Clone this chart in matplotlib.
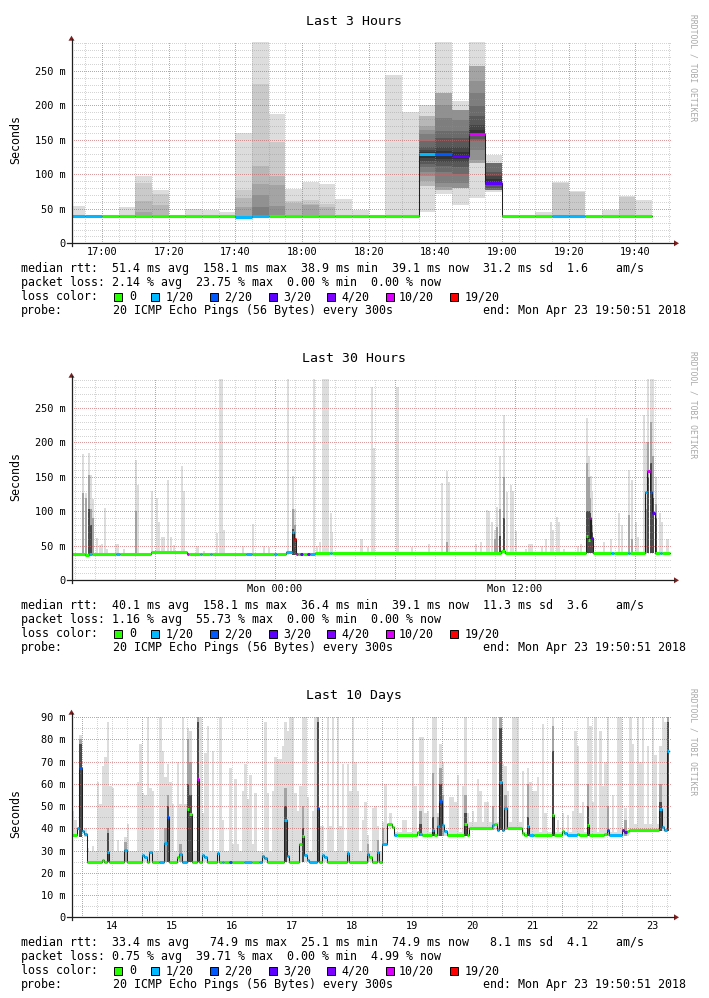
import matplotlib
matplotlib.use('Agg')
import matplotlib.pyplot as plt
from matplotlib.patches import Rectangle, Polygon
from matplotlib.lines import Line2D

plt.rcParams['font.family'] = ['DejaVu Sans Mono']

W, H = 709, 998

LOSS_COLORS = ['#26ff00', '#00b8ff', '#0059ff', '#5e00ff', '#7e00ff', '#dd00ff', '#ff0000']
LOSS_LABELS = ['0', '1/20', '2/20', '3/20', '4/20', '10/20', '19/20']
SMOKE = ['#dddddd', '#cacaca', '#b7b7b7', '#a4a4a4', '#919191',
         '#7e7e7e', '#6b6b6b', '#585858', '#454545', '#323232']
GRID_MINOR = (0.56, 0.56, 0.56, 0.38)
GRID_MAJOR = (0.87, 0.31, 0.31, 0.42)

titles = ['Last 3 Hours', 'Last 30 Hours', 'Last 10 Days']
rtt_stats = [(51.4, 158.1, 38.9, 39.1, 31.2, 1.6),
             (40.1, 158.1, 36.4, 39.1, 11.3, 3.6),
             (33.4, 74.9, 25.1, 74.9, 8.1, 4.1)]
loss_stats = [(2.14, 23.75, 0.00, 0.00),
              (1.16, 55.73, 0.00, 0.00),
              (0.75, 39.71, 0.00, 4.99)]
probe_text = '20 ICMP Echo Pings (56 Bytes) every 300s'
end_text = 'end: Mon Apr 23 19:50:51 2018'

# ---- panel 1: last 3 hours, minutes after 16:00, 5 minute steps ----
p1_start = [50, 55, 60, 65, 70, 75, 80, 85, 90, 95, 100, 105, 110, 115, 120, 125, 130, 135,
            140, 145, 150, 155, 160, 165, 170, 175, 180, 185, 190, 195, 200, 205, 210, 215, 220]
p1_median = [39.5, 39.5, 39.5, 39.5, 39.5, 39.5, 39.5, 38.9, 39.5, 39.5, 38.5, 40.0, 40.0, 39.5,
             39.5, 39.5, 39.5, 39.5, 39.5, 39.5, 39.5, 129, 129, 127, 158.1, 88, 39.5, 39.5,
             39.5, 39.5, 39.5, 39.5, 39.5, 39.5, 39.1]
p1_loss = [1, 1, 0, 0, 0, 0, 0, 0, 0, 0, 1, 1, 0, 0, 0, 0, 0, 0, 0, 0, 0, 1, 2, 3, 5, 3,
           0, 0, 0, 1, 1, 0, 0, 0, 0]
p1_tops = [[54], [], [], [53], [97, 88, 62, 45], [78, 72, 56], [], [50], [48], [46],
           [160, 77, 66, 53], [292, 231, 112, 86, 70, 53], [187, 147, 98, 84, 54],
           [79, 61.5, 59], [89, 63, 57, 55], [86, 57, 52], [64], [49], [], [244], [190],
           [201, 184, 170, 165, 158, 148, 140, 135, 132],
           [293, 218, 201, 182, 163, 153, 140, 134],
           [207, 194, 179, 163, 153, 140, 133],
           [293, 257, 235, 218, 199, 184, 172, 165],
           [128, 116, 104, 97, 93],
           [], [], [45], [89, 87], [76, 74], [], [49], [69, 67], [63]]
p1_bots = {21: [46, 83, 90, 97, 104, 110, 115, 120, 124],
           22: [71, 78, 81, 88, 104, 112, 118, 123],
           23: [56, 80, 88, 100, 110, 118, 123],
           24: [66, 116, 121, 136, 148, 152, 155, 157],
           25: [75, 78, 80, 84, 87]}

# ---- panel 2: last 30 hours, hours relative to Mon 00:00 ----
p2_med = [(-10.15, 37.8, 0), (-9.5, 36.5, 0), (-9.28, 37.8, 1), (-9.12, 37.8, 0),
          (-7.92, 37.8, 1), (-7.75, 37.8, 0), (-6.2, 41, 0), (-4.38, 38.5, 5),
          (-4.28, 37.5, 0), (-3.75, 37.5, 1), (-3.62, 37.5, 0), (-3.25, 37.5, 1),
          (-3.12, 37.5, 0), (-1.45, 37.5, 1), (-1.12, 37.5, 0), (-0.05, 37.5, 1),
          (0.12, 37.5, 0), (0.58, 41, 1), (0.88, 70, 1), (0.97, 60, 6), (1.05, 37.5, 5),
          (1.17, 37.5, 0), (1.25, 37.5, 3), (1.42, 37.5, 0), (1.62, 37.5, 4),
          (1.75, 37.5, 1), (2.0, 40, 0), (2.75, 40, 1), (2.88, 40, 0), (11.33, 42, 0),
          (11.5, 40, 0), (15.58, 65, 0), (15.67, 58, 0), (15.75, 90, 5), (15.83, 61, 3),
          (15.92, 40, 0), (16.83, 40, 1), (16.97, 40, 0), (17.67, 40, 1), (17.78, 40, 0),
          (18.5, 128, 1), (18.62, 158, 5), (18.75, 128, 2), (18.88, 97, 3), (19.0, 40, 0),
          (19.25, 40, 1), (19.38, 40, 0)]
p2_end = 19.75
p2_floor = [(-10.15, 36.5), (-6.2, 39.5), (-4.38, 36.5), (2.0, 39)]
# (hour, light top, mid top, dark top)
p2_smoke = [(-9.62, 183, 127, 0), (-9.5, 127, 120, 0), (-9.33, 185, 153, 104),
            (-9.25, 153, 104, 80), (-9.12, 118, 90, 0), (-8.95, 62, 0, 0), (-8.78, 51, 0, 0),
            (-8.67, 53, 0, 0), (-8.52, 105, 0, 0), (-8.42, 46, 0, 0), (-8.0, 53, 0, 0),
            (-7.88, 53, 0, 0), (-7.58, 45, 0, 0), (-6.98, 174, 100, 0), (-6.87, 138, 0, 0),
            (-6.2, 130, 0, 0), (-5.95, 120, 0, 0), (-5.83, 84, 0, 0), (-5.67, 63, 0, 0),
            (-5.58, 63, 0, 0), (-5.37, 146, 0, 0), (-5.25, 63, 0, 0), (-5.08, 51, 0, 0),
            (-4.7, 166, 0, 0), (-4.58, 130, 0, 0), (-3.95, 50, 0, 0), (-3.87, 50, 0, 0),
            (-3.58, 42, 0, 0), (-2.95, 69, 0, 0), (-2.78, 293, 0, 0), (-2.67, 293, 0, 0),
            (-2.58, 73, 0, 0), (-1.62, 50, 0, 0), (-1.12, 82, 0, 0), (-0.58, 50, 0, 0),
            (-0.33, 48, 0, 0), (0.62, 293, 0, 0), (0.88, 152, 104, 75), (0.97, 104, 80, 62),
            (1.92, 293, 0, 0), (2.05, 50, 0, 0), (2.22, 55, 0, 0), (2.38, 293, 0, 0),
            (2.47, 293, 0, 0), (2.55, 293, 0, 0), (2.63, 293, 0, 0), (2.75, 98, 0, 0),
            (2.83, 70, 0, 0), (4.25, 60, 0, 0), (4.33, 60, 0, 0), (4.63, 48, 0, 0),
            (4.8, 280, 0, 0), (4.92, 192, 0, 0), (6.05, 280, 0, 0), (6.13, 280, 0, 0),
            (6.83, 48, 0, 0), (7.67, 53, 0, 0), (8.3, 141, 0, 0), (8.55, 158, 56, 0),
            (8.67, 143, 0, 0), (10.0, 52, 0, 0), (10.25, 55, 0, 0), (10.55, 102, 0, 0),
            (10.68, 100, 0, 0), (10.83, 84, 0, 0), (10.95, 73, 60, 0), (11.08, 106, 77, 0),
            (11.2, 181, 104, 65), (11.42, 240, 150, 90), (11.55, 128, 0, 0),
            (11.75, 138, 0, 0), (11.88, 130, 0, 0), (12.0, 71, 0, 0), (12.5, 45, 0, 0),
            (12.67, 53, 0, 0), (12.75, 53, 0, 0), (12.83, 53, 0, 0), (13.3, 50, 0, 0),
            (13.5, 60, 0, 0), (13.75, 84, 0, 0), (13.87, 73, 0, 0), (14.08, 92, 0, 0),
            (14.17, 84, 0, 0), (14.42, 45, 0, 0), (15.13, 50, 0, 0), (15.25, 52, 0, 0),
            (15.58, 235, 170, 100), (15.67, 181, 150, 100), (15.75, 152, 120, 97),
            (15.83, 130, 80, 70), (16.42, 55, 0, 0), (16.75, 60, 0, 0), (17.17, 97, 0, 0),
            (17.33, 80, 0, 0), (17.67, 160, 95, 0), (17.8, 146, 60, 0), (18.0, 84, 0, 0),
            (18.13, 63, 0, 0), (18.42, 240, 0, 0), (18.5, 200, 104, 0),
            (18.62, 293, 200, 150), (18.75, 293, 230, 170), (18.88, 293, 180, 120),
            (19.0, 150, 110, 90), (19.22, 97, 0, 0), (19.33, 84, 0, 0), (19.55, 60, 0, 0),
            (19.63, 60, 0, 0)]

# ---- panel 3: last 10 days, hours after Apr 13 00:00, 1 hour steps ----
p3_med = [(20, 37, 0), (22, 40, 1), (23, 67, 2), (24, 39, 1), (25, 37.5, 1), (26, 25, 0),
          (32, 26, 0), (33, 25, 0), (34, 29.5, 1), (35, 25, 0), (41, 30.5, 1), (42, 25, 0),
          (48, 28, 1), (49, 27, 1), (50, 25, 0), (51, 29.5, 1), (52, 25, 0), (55, 25, 1),
          (57, 33.5, 1), (58, 45, 2), (59, 25, 0), (62, 27, 0), (63, 28.5, 1), (64, 25, 1),
          (66, 48.5, 0), (67, 46.5, 0), (68, 25, 0), (70, 62, 5), (71, 25, 0), (72, 28, 1),
          (73, 27, 1), (74, 25, 0), (78, 29, 1), (79, 25, 0), (80, 25, 1), (81, 25, 0),
          (83, 25, 2), (84, 25, 0), (89, 25, 1), (92, 25, 0), (95, 25, 1), (96, 27.5, 1),
          (97, 26.5, 1), (98, 25, 0), (105, 44, 1), (106, 27.5, 1), (107, 25, 0),
          (111, 33, 0), (112, 36.5, 0), (113, 28, 1), (114, 26, 1), (115, 25, 1),
          (118, 49, 2), (119, 25, 0), (120, 28, 1), (121, 27, 1), (122, 25, 0),
          (130, 29, 1), (131, 25, 0), (138, 28.5, 1), (139, 27, 0), (140, 25, 0),
          (142, 29.5, 1), (143, 25, 0), (144, 33, 1), (146, 42, 0), (148, 40.5, 0),
          (149, 37, 1), (150, 37, 0), (158, 38.5, 0), (159, 37.5, 1), (160, 37, 0),
          (164, 39.5, 1), (165, 37, 0), (166, 41, 1), (167, 52.5, 2), (168, 41.5, 1),
          (169, 39, 1), (170, 37, 0), (177, 42, 0), (178, 37, 0), (179, 40, 0),
          (188, 41.5, 1), (189, 42, 0), (190, 39.5, 1), (191, 60.8, 1), (192, 39.5, 1),
          (193, 49, 1), (194, 40, 0), (200, 38, 0), (201, 37, 0), (202, 41, 1),
          (203, 37, 1), (205, 37, 0), (212, 46, 0), (213, 37, 0), (216, 39, 0),
          (217, 38, 1), (218, 37, 1), (222, 37.5, 0), (223, 37, 0), (226, 41.5, 0),
          (227, 37, 0), (233, 37.5, 0), (234, 39.5, 2), (235, 37, 1), (240, 39.5, 4),
          (241, 38.5, 3), (242, 39, 0), (243, 39.5, 0), (255, 48.8, 1), (256, 40.5, 1),
          (257, 39.5, 1), (258, 74.9, 1)]
p3_end = 259
p3_floor = [(20, 36), (26, 25), (144, 33), (146, 40), (149, 36.5), (179, 39.5),
            (200, 36.5), (243, 39)]
p3_haze = [(26, 144, 25, 30), (149, 179, 36.5, 38.5), (179, 200, 39.5, 43),
           (200, 243, 36.5, 38.5), (243, 259, 39, 42)]
p3_smoke = [(20, 48, 0, 0), (21, 44, 0, 0), (23, 82, 80, 78), (25, 40, 0, 0), (26, 31, 0, 0),
            (28, 32, 0, 0), (30, 61, 0, 0), (31, 51, 0, 0), (32, 68, 0, 0), (33, 72, 0, 0),
            (34, 88, 40, 38), (35, 59, 0, 0), (36, 58, 0, 0), (38, 35, 0, 0), (41, 36, 34, 0),
            (42, 42, 0, 0), (43, 30, 0, 0), (46, 61, 0, 0), (47, 78, 0, 0), (48, 56, 0, 0),
            (49, 55, 0, 0), (50, 90, 0, 0), (51, 58, 0, 0), (52, 57, 0, 0), (55, 90, 0, 0),
            (56, 75, 0, 0), (57, 63, 40, 0), (58, 69, 55, 50), (59, 61, 0, 0), (60, 51, 0, 0),
            (62, 70, 0, 0), (63, 51, 33, 0), (64, 90, 0, 0), (65, 51, 0, 0), (66, 85, 80, 60),
            (67, 84, 70, 55), (70, 90, 90, 88), (71, 90, 0, 0), (72, 47, 0, 0), (73, 74, 0, 0),
            (74, 86, 0, 0), (76, 75, 0, 0), (79, 90, 0, 0), (80, 44, 0, 0), (83, 67, 0, 0),
            (84, 33, 0, 0), (85, 62, 0, 0), (86, 33, 0, 0), (88, 57, 0, 0), (89, 69, 0, 0),
            (90, 53, 0, 0), (91, 64, 0, 0), (92, 33, 0, 0), (93, 56, 0, 0), (95, 30, 0, 0),
            (97, 88, 0, 0), (98, 56, 0, 0), (100, 57, 0, 0), (101, 72, 0, 0), (102, 71, 0, 0),
            (103, 71, 0, 0), (104, 77, 0, 0), (105, 88, 58, 50), (106, 84, 0, 0),
            (107, 90, 0, 0), (108, 90, 0, 0), (109, 56, 0, 0), (110, 48, 0, 0), (111, 59, 0, 0),
            (112, 90, 50, 40), (113, 90, 0, 0), (114, 54, 0, 0), (116, 48, 0, 0),
            (117, 90, 0, 0), (118, 90, 90, 88), (119, 41, 0, 0), (120, 41, 0, 0),
            (122, 90, 0, 0), (123, 41, 0, 0), (124, 90, 0, 0), (126, 90, 0, 0), (127, 41, 0, 0),
            (128, 69, 0, 0), (130, 69, 30, 0), (131, 57, 0, 0), (132, 90, 0, 0), (133, 70, 0, 0),
            (134, 57, 0, 0), (136, 44, 0, 0), (137, 52, 0, 0), (138, 37, 33, 0), (140, 49, 0, 0),
            (141, 50, 0, 0), (142, 41, 35, 0), (144, 43, 40, 0), (145, 60, 0, 0), (147, 47, 0, 0),
            (148, 41, 0, 0), (152, 44, 0, 0), (153, 44, 0, 0), (156, 90, 0, 0), (157, 59, 0, 0),
            (159, 81, 48, 42), (160, 81, 0, 0), (161, 47, 0, 0), (162, 48, 0, 0),
            (164, 90, 65, 45), (165, 90, 0, 0), (166, 47, 45, 0), (167, 78, 67, 60),
            (168, 70, 55, 0), (171, 54, 0, 0), (172, 54, 0, 0), (173, 52, 0, 0), (174, 64, 0, 0),
            (176, 59, 0, 0), (177, 90, 55, 47), (178, 47, 0, 0), (180, 48, 0, 0), (182, 62, 0, 0),
            (183, 57, 0, 0), (185, 52, 0, 0), (186, 52, 0, 0), (188, 90, 50, 0), (189, 90, 0, 0),
            (191, 90, 90, 85), (192, 69, 0, 0), (193, 68, 55, 0), (194, 57, 0, 0), (196, 90, 0, 0),
            (197, 90, 0, 0), (198, 90, 0, 0), (200, 66, 0, 0), (202, 67, 60, 45), (203, 61, 0, 0),
            (204, 57, 0, 0), (205, 57, 0, 0), (206, 63, 0, 0), (208, 87, 0, 0), (209, 47, 0, 0),
            (212, 90, 86, 75), (214, 44, 0, 0), (216, 47, 0, 0), (218, 46, 0, 0), (220, 48, 0, 0),
            (221, 84, 0, 0), (222, 77, 0, 0), (223, 47, 0, 0), (224, 52, 0, 0), (226, 90, 60, 50),
            (227, 86, 0, 0), (228, 52, 0, 0), (229, 90, 0, 0), (231, 84, 0, 0), (232, 59, 0, 0),
            (233, 70, 0, 0), (234, 90, 50, 0), (236, 55, 0, 0), (238, 90, 0, 0), (239, 90, 0, 0),
            (241, 49, 44, 0), (243, 90, 0, 0), (244, 78, 0, 0), (246, 90, 0, 0), (247, 70, 0, 0),
            (248, 90, 0, 0), (250, 77, 0, 0), (252, 90, 0, 0), (253, 73, 0, 0), (255, 77, 60, 52),
            (256, 90, 0, 0), (257, 88, 0, 0), (258, 90, 90, 88)]


def fx(x):
    return x / W


def fy(y):
    return 1 - y / H


fig = plt.figure(figsize=(W / 100, H / 100), dpi=100)
fig.patch.set_facecolor('white')

PLOT_LEFT, PLOT_RIGHT = 71.5, 671.5
panel_top = [41.7, 378.7, 715.7]
panel_bot = [243.3, 580.3, 917.3]


def floor_at(steps, t):
    val = steps[0][1]
    for s, v in steps:
        if t >= s - 1e-9:
            val = v
    return val


def draw_median(ax, steps, end):
    starts = [s[0] for s in steps]
    vals = [s[1] for s in steps]
    cols = [LOSS_COLORS[s[2]] for s in steps]
    edges = starts + [end]
    xs, ys = [], []
    for i, v in enumerate(vals):
        xs += [edges[i], edges[i + 1]]
        ys += [v, v]
    ax.plot(xs, ys, color='#202020', lw=0.75, zorder=3, solid_joinstyle='miter')
    ax.hlines(vals, edges[:-1], edges[1:], colors=cols, lw=2.2, zorder=4)


def draw_grid(ax, xminor, xmajor, yminor, ymajor):
    kw = dict(lw=0.72, ls=(0, (1, 1.6)), antialiased=False)
    for x in xminor:
        ax.axvline(x, color=GRID_MINOR, zorder=2.5, **kw)
    for y in yminor:
        ax.axhline(y, color=GRID_MINOR, zorder=2.5, **kw)
    for x in xmajor:
        ax.axvline(x, color=GRID_MAJOR, zorder=2.6, **kw)
    for y in ymajor:
        ax.axhline(y, color=GRID_MAJOR, zorder=2.6, **kw)


def frame(ax, k):
    top, bot = panel_top[k], panel_bot[k]
    for s in ax.spines.values():
        s.set_visible(False)
    ax.tick_params(length=0, labelsize=7.4, colors='black')
    ax.tick_params(axis='x', pad=2.5)
    ax.tick_params(axis='y', pad=4.5)
    axis_c = '#1f1f1f'
    arrow_c = '#7f1f1f'
    fig.add_artist(Line2D([fx(67), fx(674)], [fy(bot), fy(bot)], color=axis_c, lw=0.9))
    fig.add_artist(Line2D([fx(PLOT_LEFT), fx(PLOT_LEFT)], [fy(bot + 3), fy(top - 3)],
                          color=axis_c, lw=0.9))
    fig.add_artist(Polygon([[fx(674), fy(bot - 3)], [fx(679), fy(bot)], [fx(674), fy(bot + 3)]],
                           closed=True, color=arrow_c, lw=0))
    fig.add_artist(Polygon([[fx(PLOT_LEFT - 3), fy(top - 1)], [fx(PLOT_LEFT), fy(top - 6)],
                            [fx(PLOT_LEFT + 3), fy(top - 1)]], closed=True, color=arrow_c, lw=0))
    # title, y label, watermark
    fig.text(fx(354), fy(top - 20), titles[k], ha='center', va='center', fontsize=9.5)
    fig.text(fx(16), fy((top + bot) / 2 - 3), 'Seconds', ha='center', va='center',
             rotation=90, fontsize=8.4)
    fig.text(fx(693), fy(top - 28), 'RRDTOOL / TOBI OETIKER', ha='center', va='top',
             rotation=270, fontsize=5.8, color='#a8a8a8')
    # legend block
    y0 = bot + 25.5
    avg, mx, mn, now, sd, ams = rtt_stats[k]
    line1 = ('median rtt: {:5.1f} ms avg {:6.1f} ms max {:5.1f} ms min {:5.1f} ms now'
             ' {:5.1f} ms sd {:4.1f}    am/s').format(avg, mx, mn, now, sd, ams)
    la, lm, ln, lnow = loss_stats[k]
    line2 = 'packet loss: {:.2f} % avg  {:.2f} % max  {:.2f} % min  {:.2f} % now'.format(
        la, lm, ln, lnow)
    fs = 8.4
    fig.text(fx(21), fy(y0), line1, ha='left', va='center', fontsize=fs)
    fig.text(fx(21), fy(y0 + 14), line2, ha='left', va='center', fontsize=fs)
    fig.text(fx(21), fy(y0 + 28), 'loss color:', ha='left', va='center', fontsize=fs)
    box_x = [113.6, 151, 210, 269, 327, 385.5, 450]
    lab_x = [129.5, 166, 224.5, 283, 341, 399, 464.5]
    for c, lab, bx, lx in zip(LOSS_COLORS, LOSS_LABELS, box_x, lab_x):
        fig.add_artist(Rectangle((fx(bx), fy(y0 + 28 + 4)), 8 / W, 8 / H,
                                 facecolor=c, edgecolor='black', lw=0.7))
        fig.text(fx(lx), fy(y0 + 28), lab, ha='left', va='center', fontsize=fs)
    fig.text(fx(21), fy(y0 + 42), 'probe:', ha='left', va='center', fontsize=fs)
    fig.text(fx(113), fy(y0 + 42), probe_text, ha='left', va='center', fontsize=fs)
    fig.text(fx(686), fy(y0 + 42), end_text, ha='right', va='center', fontsize=fs)


axes = []
for k in range(3):
    top, bot = panel_top[k], panel_bot[k]
    ax = fig.add_axes([fx(PLOT_LEFT), fy(bot), (PLOT_RIGHT - PLOT_LEFT) / W, (bot - top) / H])
    ax.set_facecolor('white')
    axes.append(ax)

# ---- panel 1 ----
ax = axes[0]
ax.set_xlim(50.85, 230.85)
ax.set_ylim(0, 292.5)
for i, t in enumerate(p1_start):
    tops = p1_tops[i]
    n = len(tops)
    dark_col = i in p1_bots
    bots = p1_bots.get(i, [p1_median[i]] * n)
    for j, (lo, hi) in enumerate(zip(bots, tops)):
        g = j if (not dark_col or j == 0) else j + (10 - n)
        ax.bar(t, hi - lo, bottom=lo, width=5, align='edge', color=SMOKE[min(g, 9)], lw=0,
               zorder=1, antialiased=False)
draw_median(ax, [(t, m, l) for t, m, l in zip(p1_start, p1_median, p1_loss)], 225)
draw_grid(ax, range(55, 231, 5), range(60, 231, 20), range(10, 292, 10), range(50, 292, 50))
ax.set_xticks(range(60, 221, 20))
ax.set_xticklabels(['17:00', '17:20', '17:40', '18:00', '18:20', '18:40', '19:00', '19:20', '19:40'])
ax.set_yticks(range(0, 251, 50))
ax.set_yticklabels(['0', '50 m', '100 m', '150 m', '200 m', '250 m'])
frame(ax, 0)

# ---- panel 2 ----
ax = axes[1]
ax.set_xlim(-10.15, 19.85)
ax.set_ylim(0, 292.5)
w2 = 0.11
for t, light, mid, dark in p2_smoke:
    fl = floor_at(p2_floor, t)
    for top_v, c in ((light, SMOKE[0]), (mid, '#a4a4a4'), (dark, '#4a4a4a')):
        if top_v > fl:
            ax.bar(t, top_v - fl, bottom=fl, width=w2, align='edge', color=c, lw=0,
                   zorder=1, antialiased=False)
draw_median(ax, p2_med, p2_end)
draw_grid(ax, range(-10, 20), range(-6, 20, 6), range(10, 292, 10), range(50, 292, 50))
ax.set_xticks([0, 12])
ax.set_xticklabels(['Mon 00:00', 'Mon 12:00'])
ax.set_yticks(range(0, 251, 50))
ax.set_yticklabels(['0', '50 m', '100 m', '150 m', '200 m', '250 m'])
frame(ax, 1)

# ---- panel 3 ----
ax = axes[2]
ax.set_xlim(19.85, 259.85)
ax.set_ylim(0, 90.7)
for s, e, lo, hi in p3_haze:
    ax.bar(s, hi - lo, bottom=lo, width=e - s, align='edge', color=SMOKE[0], lw=0,
           zorder=1, antialiased=False)
for t, light, mid, dark in p3_smoke:
    fl = floor_at(p3_floor, t)
    for top_v, c in ((light, SMOKE[0]), (mid, '#a4a4a4'), (dark, '#4a4a4a')):
        if top_v > fl:
            ax.bar(t, top_v - fl, bottom=fl, width=1, align='edge', color=c, lw=0,
                   zorder=1, antialiased=False)
draw_median(ax, p3_med, p3_end)
draw_grid(ax, range(24, 260, 6), range(24, 260, 24), range(5, 91, 5), range(10, 91, 10))
ax.set_xticks(range(36, 259, 24))
ax.set_xticklabels([str(d) for d in range(14, 24)])
ax.set_yticks(range(0, 91, 10))
ax.set_yticklabels(['0'] + ['{} m'.format(v) for v in range(10, 91, 10)])
frame(ax, 2)

fig.savefig('out.png', dpi=100, facecolor='white')
